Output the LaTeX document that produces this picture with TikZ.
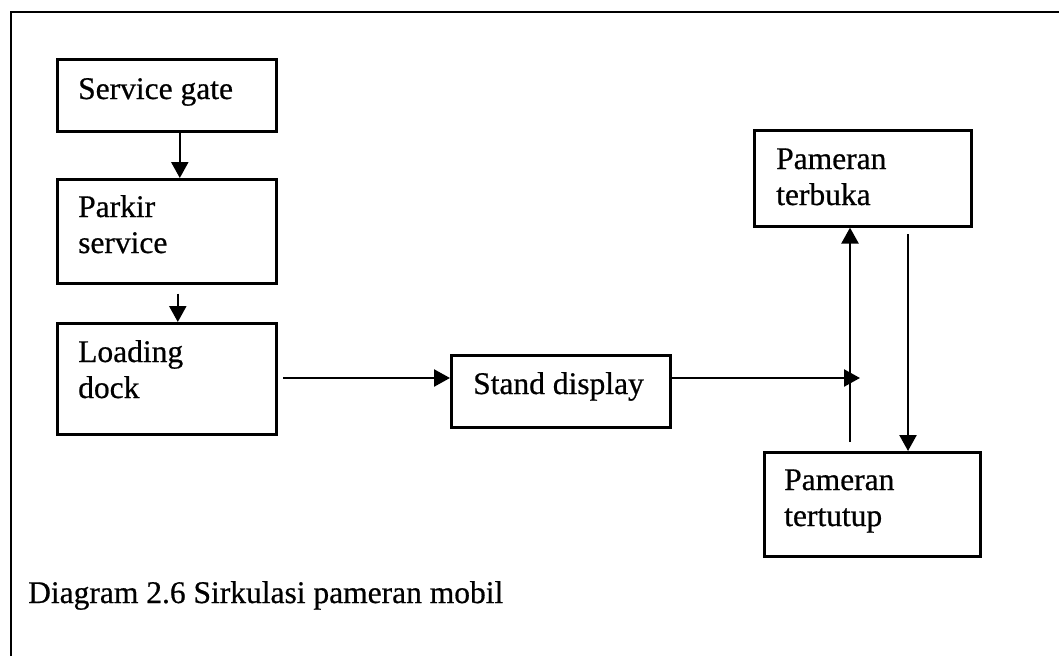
\documentclass[tikz,border=0pt]{standalone}
\usepackage{fontspec}
\setmainfont[UprightFeatures={FakeBold=0.6}]{Liberation Serif}
\usetikzlibrary{arrows.meta}
\begin{document}
\begin{tikzpicture}[x=1pt,y=-1pt,
  box/.style={draw=black, line width=2.6pt, inner sep=0pt, anchor=north west},
  txt/.style={inner sep=0pt, anchor=base west, font=\fontsize{31.5}{36}\selectfont},
  arr/.style={line width=2.4pt, -{Triangle[length=16pt,width=17pt]}},
  ln/.style={line width=2.8pt}]
\useasboundingbox (0,0) rectangle (1059,656);
% frame (left and top edges)
\draw[ln] (11,656) -- (11,12) -- (1059,12);
% boxes
\node[box, minimum width=219pt, minimum height=72pt] (sg) at (56,58) {};
\node[box, minimum width=219pt, minimum height=104pt] (ps) at (56,178) {};
\node[box, minimum width=219pt, minimum height=111pt] (ld) at (56,322) {};
\node[box, minimum width=219pt, minimum height=72pt] (sd) at (450,354) {};
\node[box, minimum width=217pt, minimum height=96pt] (pt) at (753,129) {};
\node[box, minimum width=216pt, minimum height=104pt] (tt) at (763,451) {};
% texts
\node[txt] (sgt) at (78,99) {Service gate};
\node[txt] (pst) at (78,217) {\parbox[t]{180pt}{Parkir\\service}};
\node[txt] (ldt) at (78,362) {\parbox[t]{180pt}{Loading\\dock}};
\node[txt] (sdt) at (473,394) {Stand display};
\node[txt] (ptt) at (776,169) {\parbox[t]{180pt}{Pameran\\terbuka}};
\node[txt] (ttt) at (784,490) {\parbox[t]{180pt}{Pameran\\tertutup}};
\node[txt] (cap) at (28,603) {Diagram 2.6 Sirkulasi pameran mobil};
% connector points
\coordinate (ldout) at (283,378);
\coordinate (jn) at (860,378);
\coordinate (upstart) at (850,442);
\coordinate (dnstart) at (908,234);
% connectors
\draw[arr] ([xshift=13pt]sg.south) -- ([xshift=13pt]ps.north);
\draw[arr] ([xshift=11pt,yshift=-9pt]ps.south) -- ([xshift=11pt]ld.north);
\draw[arr] (ldout) -- (ldout -| sd.west);
\draw[arr] (sd.east |- jn) -- (jn);
\draw[arr] (upstart) -- (upstart |- pt.south);
\draw[arr] (dnstart) -- (dnstart |- tt.north);
\end{tikzpicture}
\end{document}
